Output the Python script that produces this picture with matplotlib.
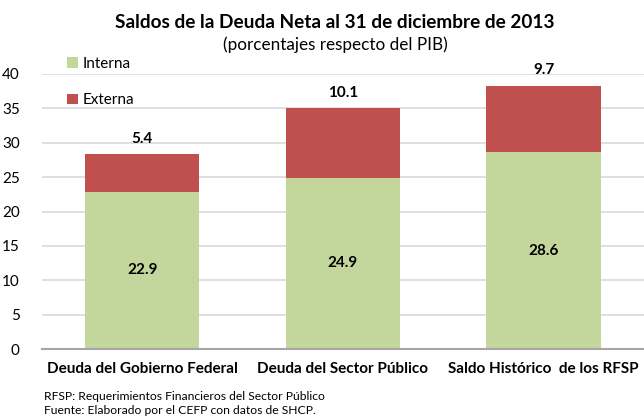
import numpy as np
import matplotlib.pyplot as plt

plt.rcParams['font.family'] = ['Lato', 'DejaVu Sans']

categorias = ['Deuda del Gobierno Federal', 'Deuda del Sector Público', 'Saldo Histórico  de los RFSP']
interna = [22.9, 24.9, 28.6]
externa = [5.4, 10.1, 9.7]

verde = '#C3D69B'
rojo = '#C0504D'

fig = plt.figure(figsize=(6.44, 4.18), dpi=100)
ax = fig.add_axes([0.065, 0.165, 0.935, 0.658])

x = np.arange(len(categorias))
b1 = ax.bar(x, interna, width=0.57, color=verde, label='Interna', zorder=3)
b2 = ax.bar(x, externa, width=0.57, bottom=interna, color=rojo, label='Externa', zorder=3)

# etiquetas de datos
for i in range(len(x)):
    ax.text(x[i], interna[i] / 2, f'{interna[i]:.1f}', ha='center', va='center',
            fontsize=11, fontweight='bold', color='black', zorder=4)
    ax.text(x[i], interna[i] + externa[i] + 1.2, f'{externa[i]:.1f}', ha='center', va='bottom',
            fontsize=11, fontweight='bold', color='black', zorder=4)

ax.set_xlim(-0.5, 2.5)
ax.set_ylim(0, 40)
ax.set_yticks(np.arange(0, 41, 5))
ax.yaxis.grid(True, color='#D9D9D9', linewidth=1.2, zorder=0)
ax.set_axisbelow(True)
for s in ['top', 'right', 'left']:
    ax.spines[s].set_visible(False)
ax.spines['bottom'].set_color('#A6A6A6')
ax.spines['bottom'].set_linewidth(1.5)
ax.spines['bottom'].set_zorder(5)
ax.tick_params(axis='both', length=0)
ax.tick_params(axis='y', labelsize=11, pad=16)
ax.set_xticks(x)
ax.set_xticklabels(categorias, fontsize=11, fontweight='bold')
ax.tick_params(axis='x', pad=9)

# leyenda
fig.legend(handles=[b1, b2], loc='upper left', bbox_to_anchor=(0.095, 0.878),
           frameon=False, fontsize=11, handlelength=0.7, handleheight=0.7,
           handletextpad=0.3, labelspacing=1.45, borderaxespad=0)

fig.text(0.52, 0.945, 'Saldos de la Deuda Neta al 31 de diciembre de 2013', ha='center', va='center',
         fontsize=13.7, fontweight='bold')
fig.text(0.52, 0.892, '(porcentajes respecto del PIB)', ha='center', va='center', fontsize=12.3)

fig.text(0.068, 0.052, 'RFSP: Requerimientos Financieros del Sector Público', ha='left', va='center', fontsize=8.7)
fig.text(0.068, 0.017, 'Fuente: Elaborado por el CEFP con datos de SHCP.', ha='left', va='center', fontsize=8.7)

fig.savefig('out.png', dpi=100)
